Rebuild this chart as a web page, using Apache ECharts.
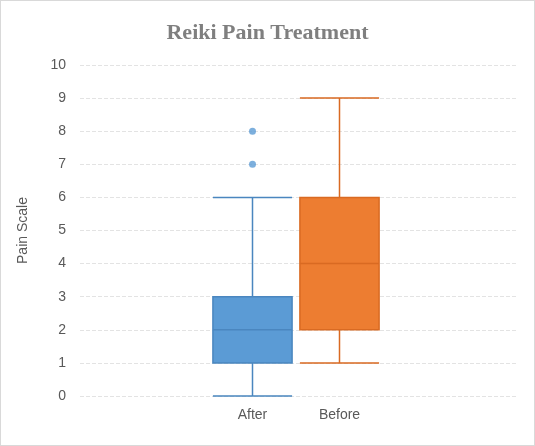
<!DOCTYPE html><html><head><meta charset="utf-8">
<script src="https://cdn.jsdelivr.net/npm/echarts@6/dist/echarts.min.js"></script>
<style>html,body{margin:0;background:#fff}#c{width:535px;height:446px;box-sizing:border-box;border:1px solid #d9d9d9}</style>
</head><body><div id="c"></div><script>
const categories=['After','Before'];
const boxData=[[0,1,2,3,6],[1,2,4,6,9]];
const outliers=[[0,7],[0,8]];
const yTicks=[0,10,1];
const colors=['#5b9bd5','#ed7d31'];
const borders=['#4a86bf','#d96a22'];
const chart=echarts.init(document.getElementById('c'));
chart.setOption({
 animation:false,
 title:{text:'Reiki Pain Treatment',left:'center',top:16,textStyle:{fontFamily:'Liberation Serif',fontWeight:'bold',fontSize:22,color:'#7f7f7f'}},
 grid:[{left:79,right:16,top:64,bottom:49},{left:208,right:151,top:64,bottom:49}],
 xAxis:[{type:'category',gridIndex:0,data:[''],axisLine:{show:false},axisTick:{show:false},axisLabel:{show:false}},
  {type:'category',gridIndex:1,data:categories,axisLine:{show:false},axisTick:{show:false},axisLabel:{color:'#595959',fontSize:14,fontFamily:'Liberation Sans',margin:12}}],
 yAxis:[{type:'value',gridIndex:0,min:yTicks[0],max:yTicks[1],interval:yTicks[2],name:'Pain Scale',nameLocation:'middle',nameGap:50,nameTextStyle:{color:'#595959',fontSize:14,fontFamily:'Liberation Sans'},
   axisLabel:{color:'#595959',fontSize:14,fontFamily:'Liberation Sans',margin:14},axisLine:{show:false},axisTick:{show:false},splitLine:{lineStyle:{color:'#e3e3e3',type:'dashed'}}},
  {type:'value',gridIndex:1,min:yTicks[0],max:yTicks[1],show:false,splitLine:{show:false}}],
 series:[{type:'boxplot',xAxisIndex:1,yAxisIndex:1,boxWidth:['91%','91%'],
   data:boxData.map((d,i)=>({value:d,itemStyle:{color:colors[i],borderColor:borders[i],borderWidth:1.5}}))},
  {type:'scatter',xAxisIndex:1,yAxisIndex:1,data:outliers,symbolSize:7,itemStyle:{color:colors[0]}}]
});
</script></body></html>
